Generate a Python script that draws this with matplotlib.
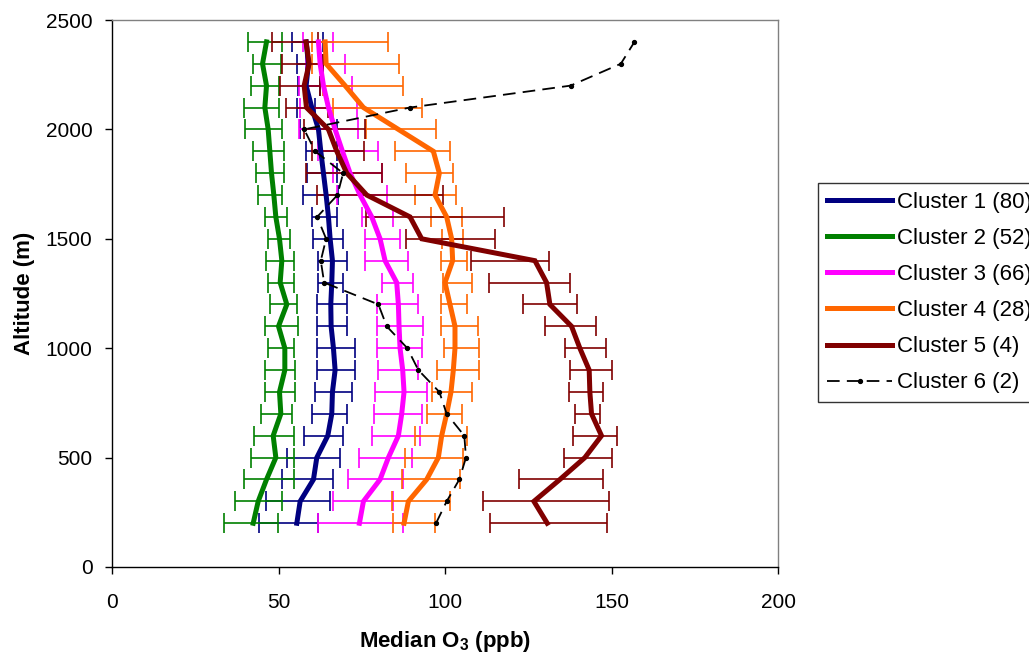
import matplotlib
matplotlib.use("Agg")
import matplotlib.pyplot as plt

plt.rcParams['font.family'] = ['Liberation Sans', 'DejaVu Sans']
plt.rcParams['mathtext.fontset'] = 'custom'
plt.rcParams['mathtext.rm'] = 'Liberation Sans:bold'
plt.rcParams['mathtext.bf'] = 'Liberation Sans:bold'

# Altitude levels (m)
altitude = [200, 300, 400, 500, 600, 700, 800, 900, 1000, 1100, 1200, 1300,
            1400, 1500, 1600, 1700, 1800, 1900, 2000, 2100, 2200, 2300, 2400]

# Median O3 (ppb) and error-bar limits for each cluster
c1_med = [55.5, 56.5, 60.5, 61.5, 64.8, 66.0, 66.2, 67.0, 66.5, 65.8, 65.7, 66.0,
          66.2, 65.5, 65.0, 64.3, 63.5, 62.7, 62.0, 60.0, 58.3, 59.0, 58.3]
c1_lo = [44.0, 46.3, 51.0, 52.7, 57.7, 60.0, 61.0, 61.5, 61.5, 61.5, 61.5, 61.9,
         62.0, 60.5, 60.0, 57.5, 58.6, 58.3, 56.5, 55.6, 56.0, 55.6, 54.0]
c1_hi = [62.0, 65.5, 66.5, 68.5, 69.5, 70.7, 72.0, 73.0, 73.0, 70.5, 70.5, 69.5,
         70.5, 69.5, 67.5, 68.0, 67.5, 67.5, 67.5, 61.0, 62.5, 63.5, 63.5]

c2_med = [42.4, 43.9, 46.4, 49.2, 48.4, 50.7, 50.3, 51.9, 51.9, 50.0, 52.5, 50.5,
          51.0, 50.3, 49.2, 48.6, 47.9, 47.4, 46.9, 45.9, 46.4, 45.2, 46.4]
c2_lo = [33.6, 36.9, 39.6, 41.6, 42.6, 44.6, 46.0, 46.0, 46.7, 45.9, 47.4, 46.8,
         46.1, 46.9, 45.9, 43.7, 43.1, 42.2, 40.0, 39.5, 41.6, 42.2, 40.9]
c2_hi = [49.9, 51.2, 54.7, 54.7, 54.7, 54.0, 55.0, 55.0, 54.7, 55.9, 55.6, 54.7,
         54.7, 53.6, 52.6, 51.0, 51.6, 51.6, 51.0, 50.0, 50.2, 50.8, 51.2]

c3_med = [74.3, 75.5, 80.5, 83.0, 86.0, 87.0, 87.7, 87.3, 86.5, 86.2, 86.0, 85.5,
          82.0, 80.5, 78.0, 74.5, 71.5, 69.2, 67.0, 65.0, 63.5, 62.5, 62.0]
c3_lo = [62.0, 66.5, 70.8, 74.3, 78.0, 78.7, 79.0, 80.0, 79.5, 79.5, 79.5, 81.0,
         76.0, 76.0, 75.0, 67.7, 66.3, 62.0, 56.2, 56.5, 56.2, 58.3, 57.5]
c3_hi = [87.3, 84.3, 87.5, 90.0, 92.5, 93.0, 94.5, 92.0, 93.2, 93.5, 92.0, 90.5,
         89.0, 86.5, 84.5, 82.5, 81.0, 80.0, 74.0, 73.5, 72.0, 70.0, 66.5]

c4_med = [87.7, 89.0, 94.5, 98.0, 99.0, 100.5, 101.8, 102.5, 103.0, 103.0, 101.5, 100.0,
          102.3, 102.0, 100.5, 97.0, 98.3, 96.5, 86.0, 75.5, 70.0, 64.3, 64.0]
c4_lo = [84.3, 84.0, 87.0, 88.0, 91.0, 94.5, 96.0, 97.5, 99.7, 98.8, 98.8, 99.5,
         98.7, 99.0, 95.7, 91.0, 88.3, 85.0, 76.2, 66.5, 63.5, 60.0, 60.0]
c4_hi = [97.0, 101.5, 104.5, 105.5, 106.5, 105.0, 108.0, 110.2, 110.2, 110.0, 106.5, 108.0,
         106.7, 105.5, 105.0, 103.3, 102.3, 101.5, 97.3, 93.0, 87.3, 86.3, 83.0]

c5_med = [130.7, 126.7, 134.5, 142.0, 147.0, 144.0, 143.5, 143.3, 140.5, 138.0, 131.5, 130.5,
          127.0, 93.0, 89.5, 76.5, 70.5, 67.5, 65.0, 58.4, 57.7, 59.2, 58.3]
c5_lo = [113.5, 111.3, 122.3, 135.7, 138.5, 139.0, 137.3, 137.5, 136.0, 130.0, 123.3, 113.3,
         107.7, 88.3, 76.3, 61.5, 58.4, 60.0, 57.7, 52.4, 50.4, 51.0, 48.0]
c5_hi = [148.5, 149.3, 147.3, 150.0, 151.7, 146.5, 147.3, 150.2, 148.2, 145.3, 139.7, 137.5,
         131.3, 115.0, 117.7, 99.5, 81.0, 75.7, 76.0, 65.0, 62.5, 63.5, 62.0]

c6_med = [97.3, 100.5, 104.3, 106.3, 105.8, 100.5, 98.3, 92.0, 88.7, 82.5, 80.0, 63.7,
          62.7, 64.3, 61.6, 67.7, 69.4, 61.0, 57.7, 89.5, 137.7, 152.8, 156.9]

labels = ["Cluster 1 (80)", "Cluster 2 (52)", "Cluster 3 (66)",
          "Cluster 4 (28)", "Cluster 5 (4)", "Cluster 6 (2)"]
colors = ["#000080", "#008000", "#FF00FF", "#FF6600", "#800000", "#000000"]

fig = plt.figure(figsize=(10.29, 6.54), dpi=100)
ax = fig.add_axes([112 / 1029, 87 / 654, 666 / 1029, 547 / 654])

series = [(c1_med, c1_lo, c1_hi), (c2_med, c2_lo, c2_hi), (c3_med, c3_lo, c3_hi),
          (c4_med, c4_lo, c4_hi), (c5_med, c5_lo, c5_hi)]

handles = []
for i, (med, lo, hi) in enumerate(series):
    xerr = [[m - l for m, l in zip(med, lo)], [h - m for m, h in zip(med, hi)]]
    ax.errorbar(med, altitude, xerr=xerr, fmt='none', ecolor=colors[i],
                elinewidth=1.2, capsize=7.5, capthick=1.2, zorder=2 + i * 0.1)
    ln, = ax.plot(med, altitude, color=colors[i], lw=3.6, zorder=3 + i * 0.1,
                  solid_joinstyle='miter')
    handles.append(ln)

ln6, = ax.plot(c6_med, altitude, color='black', lw=1.3, dashes=(7, 4),
               marker='o', markersize=2.8, zorder=4)
handles.append(ln6)

ax.set_xlim(0, 200)
ax.set_ylim(0, 2500)
ax.set_xticks([0, 50, 100, 150, 200])
ax.set_yticks([0, 500, 1000, 1500, 2000, 2500])
ax.tick_params(direction='out', length=5, width=1, labelsize=15)
ax.tick_params(axis='y', pad=9)
ax.tick_params(axis='x', pad=14)
for side in ('left', 'bottom'):
    ax.spines[side].set_linewidth(1.0)
    ax.spines[side].set_color('black')
for side in ('top', 'right'):
    ax.spines[side].set_linewidth(1.0)
    ax.spines[side].set_color('#808080')

ax.set_xlabel('Median O$_\\mathregular{3}$ (ppb)', fontsize=16, fontweight='bold', labelpad=12)
ax.set_ylabel('Altitude (m)', fontsize=16, fontweight='bold', labelpad=8)

leg = fig.legend(handles, labels, loc='upper left',
                 bbox_to_anchor=(818 / 1029, 1 - 183 / 654),
                 bbox_transform=fig.transFigure, borderaxespad=0,
                 fontsize=16, frameon=True, fancybox=False, shadow=False,
                 numpoints=1, handlelength=2.95, handletextpad=0.2,
                 labelspacing=0.68, borderpad=0.4)
leg.get_frame().set_edgecolor('black')
leg.get_frame().set_linewidth(1.0)

fig.savefig('out.png', dpi=100)
